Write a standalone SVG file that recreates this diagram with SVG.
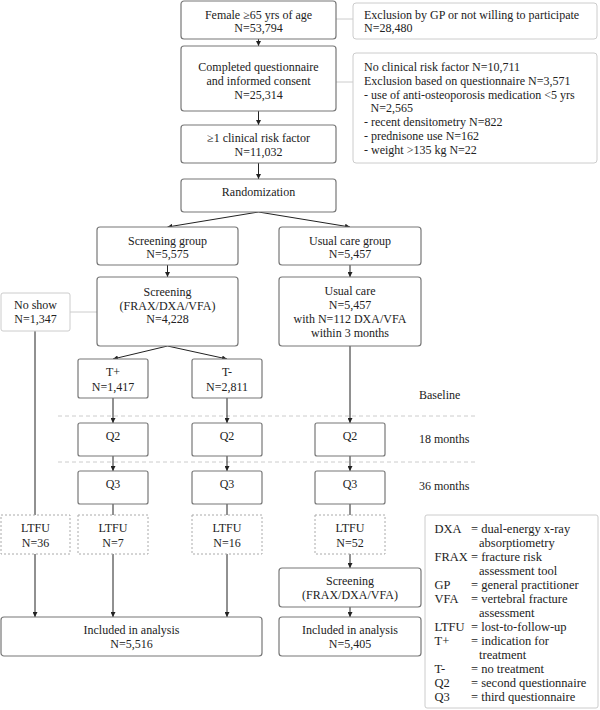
<svg xmlns="http://www.w3.org/2000/svg" width="600" height="710" viewBox="0 0 600 710">
<defs>
<marker id="ah" viewBox="0 0 10 10" refX="10" refY="5" markerWidth="5" markerHeight="5" orient="auto" markerUnits="userSpaceOnUse">
<path d="M0,0 L10,5 L0,10 z" fill="#222"/>
</marker>
<style>
text{font-family:"Liberation Serif","Times New Roman",serif;font-size:12px;fill:#222}
.c{text-anchor:middle}
.lg text{font-size:12.5px}
.box{fill:#fff;stroke:#777;stroke-width:1.2}
.ex{fill:#fff;stroke:#ccc;stroke-width:1}
.lt{fill:#fff;stroke:#aaa;stroke-width:1;stroke-dasharray:2,2}
.ln{fill:none;stroke:#222;stroke-width:1}
.ar{fill:none;stroke:#222;stroke-width:1;marker-end:url(#ah)}
.gl{fill:none;stroke:#ccc;stroke-width:1}
.dl{fill:none;stroke:#ccc;stroke-width:1;stroke-dasharray:4,3}
</style>
</defs>
<rect width="600" height="710" fill="#fff"/>

<g id="connectors">
<line class="gl" x1="336" y1="19" x2="353" y2="19"/>
<line class="gl" x1="336" y1="82" x2="353" y2="82"/>
<line class="gl" x1="70" y1="312" x2="97" y2="312"/>
<line class="dl" x1="58" y1="416" x2="477" y2="416"/>
<line class="dl" x1="58" y1="462" x2="477" y2="462"/>
<line class="ar" x1="258.5" y1="39" x2="258.5" y2="46"/>
<line class="ar" x1="258.5" y1="111" x2="258.5" y2="125"/>
<line class="ar" x1="258.5" y1="163" x2="258.5" y2="179"/>
<line class="ar" x1="258.5" y1="212" x2="167.5" y2="227"/>
<line class="ar" x1="258.5" y1="212" x2="350" y2="227"/>
<line class="ar" x1="167.5" y1="265" x2="167.5" y2="277"/>
<line class="ar" x1="350" y1="265" x2="350" y2="277"/>
<line class="ar" x1="167.5" y1="346" x2="113" y2="359"/>
<line class="ar" x1="167.5" y1="346" x2="227" y2="359"/>
<line class="ar" x1="350" y1="346" x2="350" y2="423"/>
<line class="ar" x1="113" y1="398" x2="113" y2="423"/>
<line class="ar" x1="227" y1="398" x2="227" y2="423"/>
<line class="ar" x1="113" y1="456" x2="113" y2="471"/>
<line class="ar" x1="227" y1="456" x2="227" y2="471"/>
<line class="ar" x1="350" y1="456" x2="350" y2="471"/>
<line class="ln" x1="113" y1="504" x2="113" y2="515"/>
<line class="ln" x1="227" y1="504" x2="227" y2="515"/>
<line class="ln" x1="350" y1="504" x2="350" y2="515"/>
<line class="ln" x1="35" y1="331" x2="35" y2="515"/>
<line class="ar" x1="35" y1="554" x2="35" y2="617"/>
<line class="ar" x1="113" y1="554" x2="113" y2="617"/>
<line class="ar" x1="227" y1="554" x2="227" y2="617"/>
<line class="ar" x1="350" y1="554" x2="350" y2="568"/>
<line class="ar" x1="350" y1="607" x2="350" y2="617"/>
</g>

<g id="female">
<rect class="box" x="181" y="1" width="155" height="38" rx="3"/>
<text class="c" x="258.5" y="19">Female ≥65 yrs of age</text>
<text class="c" x="258.5" y="32">N=53,794</text>
</g>
<g id="excl-gp">
<rect class="ex" x="353" y="3" width="244" height="36" rx="3"/>
<text x="364" y="19">Exclusion by GP or not willing to participate</text>
<text x="364" y="32">N=28,480</text>
</g>
<g id="completed">
<rect class="box" x="181" y="46" width="155" height="65" rx="3"/>
<text class="c" x="258.5" y="71">Completed questionnaire</text>
<text class="c" x="258.5" y="85">and informed consent</text>
<text class="c" x="258.5" y="98.5">N=25,314</text>
</g>
<g id="excl-q">
<rect class="ex" x="353" y="53" width="244" height="110" rx="3"/>
<text x="364" y="71">No clinical risk factor N=10,711</text>
<text x="364" y="84.8">Exclusion based on questionnaire N=3,571</text>
<text x="364" y="98.6">- use of anti-osteoporosis medication &lt;5 yrs</text>
<text x="370.5" y="112.4">N=2,565</text>
<text x="364" y="126.2">- recent densitometry N=822</text>
<text x="364" y="140">- prednisone use N=162</text>
<text x="364" y="153.8">- weight &gt;135 kg N=22</text>
</g>
<g id="risk">
<rect class="box" x="181" y="125" width="155" height="38" rx="3"/>
<text class="c" x="258.5" y="142">≥1 clinical risk factor</text>
<text class="c" x="258.5" y="156">N=11,032</text>
</g>
<g id="random">
<rect class="box" x="181" y="179" width="155" height="33" rx="3"/>
<text class="c" x="258.5" y="196">Randomization</text>
</g>
<g id="screen-group">
<rect class="box" x="97" y="227" width="141" height="38" rx="3"/>
<text class="c" x="167.5" y="245">Screening group</text>
<text class="c" x="167.5" y="258">N=5,575</text>
</g>
<g id="usual-group">
<rect class="box" x="279" y="227" width="142" height="38" rx="3"/>
<text class="c" x="350" y="245">Usual care group</text>
<text class="c" x="350" y="258">N=5,457</text>
</g>
<g id="screening">
<rect class="box" x="97" y="277" width="141" height="69" rx="3"/>
<text class="c" x="167.5" y="296">Screening</text>
<text class="c" x="167.5" y="309.5">(FRAX/DXA/VFA)</text>
<text class="c" x="167.5" y="323">N=4,228</text>
</g>
<g id="usual">
<rect class="box" x="279" y="277" width="142" height="69" rx="3"/>
<text class="c" x="350" y="295">Usual care</text>
<text class="c" x="350" y="309">N=5,457</text>
<text class="c" x="350" y="323">with N=112 DXA/VFA</text>
<text class="c" x="350" y="337">within 3 months</text>
</g>
<g id="noshow">
<rect class="ex" x="1" y="293" width="69" height="38" rx="2"/>
<text class="c" x="35.5" y="309">No show</text>
<text class="c" x="35.5" y="323">N=1,347</text>
</g>
<g id="tplus">
<rect class="box" x="78" y="359" width="70" height="39" rx="2"/>
<text class="c" x="113" y="376">T+</text>
<text class="c" x="113" y="390.5">N=1,417</text>
</g>
<g id="tminus">
<rect class="box" x="192" y="359" width="70" height="39" rx="2"/>
<text class="c" x="227" y="376">T-</text>
<text class="c" x="227" y="390.5">N=2,811</text>
</g>
<g id="q2a"><rect class="box" x="78" y="423" width="70" height="33" rx="2"/><text class="c" x="113" y="440">Q2</text></g>
<g id="q2b"><rect class="box" x="192" y="423" width="70" height="33" rx="2"/><text class="c" x="227" y="440">Q2</text></g>
<g id="q2c"><rect class="box" x="315" y="423" width="70" height="33" rx="2"/><text class="c" x="350" y="440">Q2</text></g>
<g id="q3a"><rect class="box" x="78" y="471" width="70" height="33" rx="2"/><text class="c" x="113" y="488">Q3</text></g>
<g id="q3b"><rect class="box" x="192" y="471" width="70" height="33" rx="2"/><text class="c" x="227" y="488">Q3</text></g>
<g id="q3c"><rect class="box" x="315" y="471" width="70" height="33" rx="2"/><text class="c" x="350" y="488">Q3</text></g>
<g id="timeline">
<text x="419" y="399">Baseline</text>
<text x="419" y="442.5">18 months</text>
<text x="419" y="489.5">36 months</text>
</g>
<g id="ltfu1"><rect class="lt" x="1" y="515" width="69" height="39"/><text class="c" x="35.5" y="532">LTFU</text><text class="c" x="35.5" y="546.5">N=36</text></g>
<g id="ltfu2"><rect class="lt" x="78" y="515" width="70" height="39"/><text class="c" x="113" y="532">LTFU</text><text class="c" x="113" y="546.5">N=7</text></g>
<g id="ltfu3"><rect class="lt" x="192" y="515" width="70" height="39"/><text class="c" x="227" y="532">LTFU</text><text class="c" x="227" y="546.5">N=16</text></g>
<g id="ltfu4"><rect class="lt" x="315" y="515" width="70" height="39"/><text class="c" x="350" y="532">LTFU</text><text class="c" x="350" y="546.5">N=52</text></g>
<g id="screening-late">
<rect class="box" x="279" y="568" width="142" height="39" rx="3"/>
<text class="c" x="350" y="585">Screening</text>
<text class="c" x="350" y="599">(FRAX/DXA/VFA)</text>
</g>
<g id="included-left">
<rect class="box" x="1" y="617" width="261" height="39" rx="3"/>
<text class="c" x="131.5" y="634">Included in analysis</text>
<text class="c" x="131.5" y="648">N=5,516</text>
</g>
<g id="included-right">
<rect class="box" x="279" y="617" width="142" height="39" rx="3"/>
<text class="c" x="350" y="634">Included in analysis</text>
<text class="c" x="350" y="648">N=5,405</text>
</g>
<g id="legend" class="lg">
<rect class="ex" x="425" y="515" width="173" height="193" rx="2"/>
<text x="434.5" y="532.5">DXA</text><text x="471" y="532.5">= dual-energy x-ray</text>
<text x="479" y="546.5">absorptiometry</text>
<text x="434.5" y="560.5">FRAX</text><text x="471" y="560.5">= fracture risk</text>
<text x="479" y="574.5">assessment tool</text>
<text x="434.5" y="588.5">GP</text><text x="471" y="588.5">= general practitioner</text>
<text x="434.5" y="602.5">VFA</text><text x="471" y="602.5">= vertebral fracture</text>
<text x="479" y="616.5">assessment</text>
<text x="434.5" y="630.5">LTFU</text><text x="471" y="630.5">= lost-to-follow-up</text>
<text x="434.5" y="644.5">T+</text><text x="471" y="644.5">= indication for</text>
<text x="479" y="658.5">treatment</text>
<text x="434.5" y="672.5">T-</text><text x="471" y="672.5">= no treatment</text>
<text x="434.5" y="686.5">Q2</text><text x="471" y="686.5">= second questionnaire</text>
<text x="434.5" y="700.5">Q3</text><text x="471" y="700.5">= third questionnaire</text>
</g>
</svg>
